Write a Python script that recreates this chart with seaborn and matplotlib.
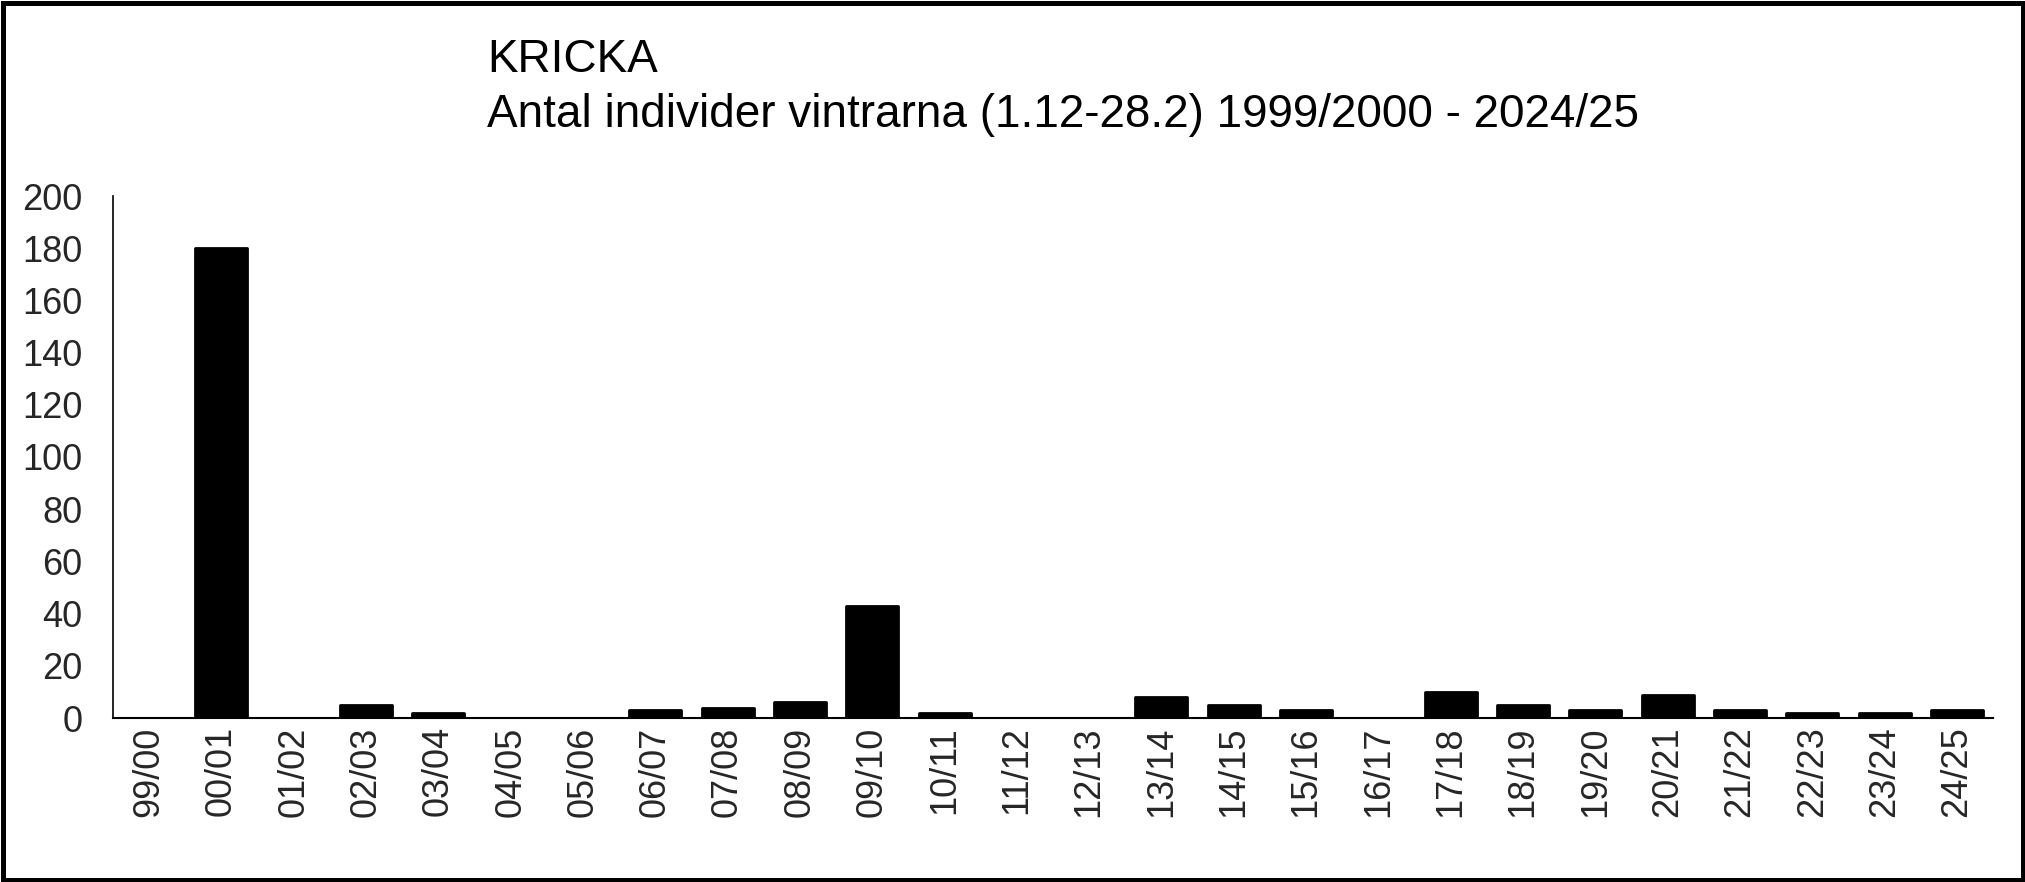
import matplotlib
matplotlib.use("Agg")
import matplotlib.pyplot as plt
import seaborn as sns
import pandas as pd
from matplotlib.patches import Rectangle

seasons = ["99/00", "00/01", "01/02", "02/03", "03/04", "04/05", "05/06", "06/07",
           "07/08", "08/09", "09/10", "10/11", "11/12", "12/13", "13/14", "14/15",
           "15/16", "16/17", "17/18", "18/19", "19/20", "20/21", "21/22", "22/23",
           "23/24", "24/25"]
counts = [0, 180, 0, 5, 2, 0, 0, 3, 4, 6, 43, 2, 0, 0, 8, 5, 3, 0, 10, 5, 3, 9, 3, 2, 2, 3]
yticks = list(range(0, 201, 20))
title1 = "KRICKA"
title2 = "Antal individer vintrarna (1.12-28.2) 1999/2000 - 2024/25"

sns.set_theme(style="white")
plt.rcParams['font.family'] = ['Liberation Sans', 'DejaVu Sans']

W, H = 2025, 882
fig = plt.figure(figsize=(W / 100, H / 100), dpi=100)
ax = fig.add_axes([113 / W, 1 - 718 / H, (1993 - 113) / W, (718 - 196) / H])

df = pd.DataFrame({"season": seasons, "count": counts})
sns.barplot(data=df, x="season", y="count", color="black", width=0.72,
            edgecolor="black", linewidth=2.0, saturation=1, ax=ax)
for p in ax.patches:
    p.set_joinstyle("round")

ax.set_xlim(-0.5, len(seasons) - 0.5)
ax.set_ylim(0, 200)
ax.set_yticks(yticks)
ax.set_yticklabels([str(v) for v in yticks], fontsize=26)
ax.set_xticks(range(len(seasons)))
ax.set_xticklabels(seasons, rotation=90, fontsize=26)
ax.tick_params(axis="x", which="major", length=0, pad=6)
ax.set_xticks([i - 0.5 for i in range(len(seasons) + 1)], minor=True)
ax.tick_params(axis="x", which="minor", length=8, width=1.2, color="black", direction="out")
ax.tick_params(axis="y", which="major", length=7, width=1.2, color="black", direction="out", pad=15)
ax.set_xlabel("")
ax.set_ylabel("")
for s in ["top", "right"]:
    ax.spines[s].set_visible(False)
for s in ["left", "bottom"]:
    ax.spines[s].set_color("black")
ax.spines["left"].set_linewidth(1.2)
ax.spines["bottom"].set_linewidth(1.5)
ax.grid(False)

fig.text(487 / W, 1 - 72 / H, title1, fontsize=33, va="baseline", ha="left", color="black")
fig.text(487 / W, 1 - 127 / H, title2, fontsize=33, va="baseline", ha="left", color="black")

fig.patches.append(Rectangle((2.5 / W, 2.5 / H), 1 - 5 / W, 1 - 5 / H, transform=fig.transFigure,
                             fill=False, edgecolor="black", linewidth=3.6))

fig.savefig("out.png", dpi=100, facecolor="white")
